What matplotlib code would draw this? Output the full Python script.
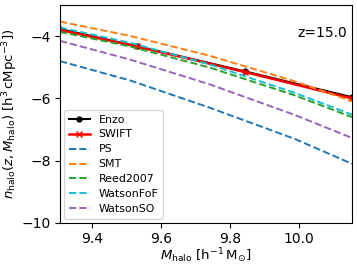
import matplotlib
matplotlib.use("Agg")
import matplotlib.pyplot as plt

# Simulation data (log10 halo mass, log10 number density)
sim_mass = [9.307, 9.53, 9.843, 10.154]
enzo = [-3.77, -4.32, -5.13, -5.96]
swift = [-3.80, -4.33, -5.15, -6.00]

# Analytic mass functions
model_mass = [9.307, 9.51, 9.742, 9.988, 10.154]
ps = [-4.80, -5.42, -6.30, -7.30, -8.10]
smt = [-3.53, -3.99, -4.63, -5.45, -6.09]
reed = [-3.86, -4.33, -5.01, -5.90, -6.60]
watson_fof = [-3.72, -4.21, -4.91, -5.82, -6.52]
watson_so = [-4.15, -4.75, -5.55, -6.53, -7.27]

fig = plt.figure(figsize=(3.57, 2.67), dpi=100)
ax = fig.add_axes([0.168, 0.165, 0.818, 0.816])

ax.plot(sim_mass, enzo, color="black", marker="o", markersize=3.5, lw=1.5, label="Enzo")
ax.plot(sim_mass, swift, color="red", marker="x", markersize=4, lw=1.8, label="SWIFT")
ax.plot(model_mass, ps, "--", color="C0", lw=1.4, label="PS")
ax.plot(model_mass, smt, "--", color="C1", lw=1.4, label="SMT")
ax.plot(model_mass, reed, "--", color="C2", lw=1.4, label="Reed2007")
ax.plot(model_mass, watson_fof, "--", color="C9", lw=1.4, label="WatsonFoF")
ax.plot(model_mass, watson_so, "--", color="C4", lw=1.4, label="WatsonSO")

ax.set_xlim(9.307, 10.154)
ax.set_ylim(-10, -3)
ax.set_xticks([9.4, 9.6, 9.8, 10.0])
ax.set_yticks([-10, -8, -6, -4])
ax.tick_params(labelsize=10, pad=3)

ax.set_xlabel(r"$M_{\rm halo}$ [h$^{-1}\,$M$_{\odot}$]", fontsize=9.5, labelpad=0)
ax.set_ylabel(r"$n_{\rm halo}(z, M_{\rm halo})$ [h$^3\,$cMpc$^{-3}$])", fontsize=9.5, labelpad=1)

ax.text(0.983, 0.87, "z=15.0", transform=ax.transAxes, ha="right", va="center", fontsize=10)

ax.legend(loc="lower left", fontsize=7.9, handlelength=1.9, borderaxespad=0.4, labelspacing=0.45)

fig.savefig("out.png", dpi=100)
